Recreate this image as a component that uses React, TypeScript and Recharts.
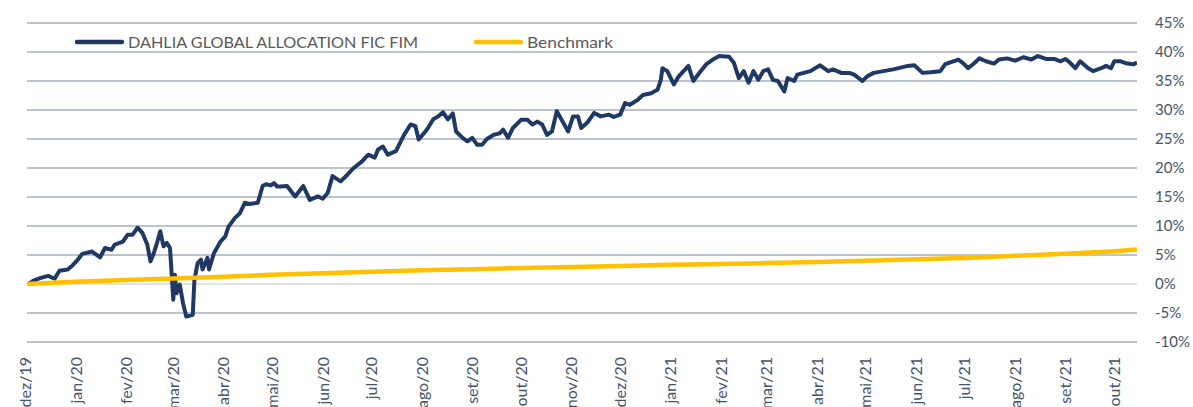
import { LineChart, Line, XAxis, YAxis, CartesianGrid } from "recharts";

const fundName = "DAHLIA GLOBAL ALLOCATION FIC FIM";
const benchName = "Benchmark";

// cumulative return, %
const fundDates = [
  "2019-12-02", "2019-12-04", "2019-12-06", "2019-12-10", "2019-12-15", "2019-12-19", "2019-12-22", "2019-12-27", "2019-12-30",
  "2020-01-02", "2020-01-05", "2020-01-11", "2020-01-16", "2020-01-19", "2020-01-23", "2020-01-25", "2020-01-30",
  "2020-02-02", "2020-02-05", "2020-02-08", "2020-02-11", "2020-02-14", "2020-02-16", "2020-02-18", "2020-02-20", "2020-02-22", "2020-02-24", "2020-02-26", "2020-02-28",
  "2020-03-01", "2020-03-02", "2020-03-03", "2020-03-05", "2020-03-07", "2020-03-09", "2020-03-13", "2020-03-14", "2020-03-16", "2020-03-18", "2020-03-19", "2020-03-22", "2020-03-23", "2020-03-26", "2020-03-30",
  "2020-04-02", "2020-04-04", "2020-04-08", "2020-04-11", "2020-04-14", "2020-04-17", "2020-04-22", "2020-04-25", "2020-04-27", "2020-04-30",
  "2020-05-02", "2020-05-04", "2020-05-06", "2020-05-10", "2020-05-15", "2020-05-20", "2020-05-24", "2020-05-29",
  "2020-06-01", "2020-06-04", "2020-06-07", "2020-06-12", "2020-06-16", "2020-06-20", "2020-06-25", "2020-06-29",
  "2020-07-03", "2020-07-05", "2020-07-08", "2020-07-11", "2020-07-16", "2020-07-21", "2020-07-25", "2020-07-28", "2020-07-30",
  "2020-08-04", "2020-08-08", "2020-08-11", "2020-08-14", "2020-08-17", "2020-08-20", "2020-08-22", "2020-08-26", "2020-08-29",
  "2020-09-01", "2020-09-04", "2020-09-07", "2020-09-10", "2020-09-14", "2020-09-18", "2020-09-20", "2020-09-23", "2020-09-26",
  "2020-10-01", "2020-10-05", "2020-10-08", "2020-10-11", "2020-10-14", "2020-10-17", "2020-10-20", "2020-10-23", "2020-10-26", "2020-10-30",
  "2020-11-02", "2020-11-05", "2020-11-07", "2020-11-11", "2020-11-15", "2020-11-19", "2020-11-24", "2020-11-27",
  "2020-12-01", "2020-12-04", "2020-12-07", "2020-12-12", "2020-12-15", "2020-12-20", "2020-12-24", "2020-12-26", "2020-12-27", "2020-12-30",
  "2021-01-03", "2021-01-06", "2021-01-09", "2021-01-12", "2021-01-15", "2021-01-19", "2021-01-23", "2021-01-27", "2021-01-31",
  "2021-02-06", "2021-02-09", "2021-02-12", "2021-02-15", "2021-02-18", "2021-02-21", "2021-02-24", "2021-02-27",
  "2021-03-02", "2021-03-05", "2021-03-08", "2021-03-12", "2021-03-14", "2021-03-18", "2021-03-20", "2021-03-24", "2021-03-28",
  "2021-04-03", "2021-04-08", "2021-04-11", "2021-04-16", "2021-04-21", "2021-04-24", "2021-04-29",
  "2021-05-02", "2021-05-06", "2021-05-12", "2021-05-18", "2021-05-27", "2021-05-31",
  "2021-06-05", "2021-06-10", "2021-06-16", "2021-06-19", "2021-06-24", "2021-06-27", "2021-06-30",
  "2021-07-03", "2021-07-07", "2021-07-10", "2021-07-14", "2021-07-19", "2021-07-22", "2021-07-27",
  "2021-08-01", "2021-08-06", "2021-08-11", "2021-08-15", "2021-08-20", "2021-08-25", "2021-08-29",
  "2021-09-01", "2021-09-04", "2021-09-07", "2021-09-10", "2021-09-15", "2021-09-18", "2021-09-23", "2021-09-26", "2021-09-29",
  "2021-10-01", "2021-10-05", "2021-10-09", "2021-10-13", "2021-10-15",
];
const fundValues = [
  0, 0.2, 0.6, 1.0, 1.4, 0.9, 2.3, 2.5, 3.2,
  4.1, 5.2, 5.6, 4.6, 6.2, 5.9, 6.8, 7.3,
  8.5, 8.5, 9.7, 8.8, 6.8, 3.9, 5.3, 7.1, 9.1, 6.5, 7.1, 6.2,
  -2.7, 1.6, -1.6, -0.1, -3.3, -5.6, -5.3, 0.7, 3.6, 4.2, 2.5, 4.5, 2.5, 5.3, 7.3,
  8.2, 9.9, 11.4, 12.2, 14.0, 13.8, 14.0, 16.9, 17.2, 17.0,
  17.4, 16.8, 16.8, 16.9, 15.1, 16.9, 14.5, 15.1,
  14.7, 15.7, 18.6, 17.7, 18.8, 20.0, 21.1, 22.3,
  21.8, 23.2, 23.7, 22.3, 22.9, 25.7, 27.5, 27.2, 24.9,
  26.6, 28.4, 28.9, 29.6, 28.4, 29.4, 26.3, 25.2, 24.6,
  25.2, 24.0, 24.0, 25.0, 25.7, 26.0, 26.6, 25.2, 26.9,
  28.3, 28.3, 27.5, 28.0, 27.5, 25.7, 26.3, 29.8, 28.3, 26.3,
  28.9, 28.9, 26.9, 27.9, 29.5, 28.9, 29.2, 28.8,
  29.2, 31.2, 30.9, 31.8, 32.6, 32.9, 33.5, 35.2, 37.2, 36.7,
  34.4, 35.8, 36.7, 37.6, 35.0, 36.5, 37.9, 38.7, 39.3,
  39.2, 38.1, 35.5, 36.7, 34.7, 36.7, 35.2, 36.7,
  37.0, 35.2, 35.0, 33.2, 35.5, 35.0, 36.1, 36.4, 36.7,
  37.7, 36.7, 37.0, 36.4, 36.4, 36.1, 35.0,
  35.8, 36.4, 36.7, 37.0, 37.6, 37.7,
  36.4, 36.5, 36.7, 37.9, 38.4, 38.7, 38.1,
  37.2, 38.1, 38.9, 38.4, 38.0, 38.7, 38.9,
  38.5, 39.1, 38.7, 39.3, 38.8, 38.8, 38.4,
  38.8, 38.1, 37.2, 38.4, 37.2, 36.7, 37.2, 37.6, 37.2,
  38.4, 38.4, 38.0, 37.9, 38.2,
];

const benchDates = [
  "2019-12-02", "2020-01-01", "2020-02-01", "2020-03-01", "2020-04-01", "2020-05-01", "2020-06-01",
  "2020-07-01", "2020-08-01", "2020-09-01", "2020-10-01", "2020-11-01", "2020-12-01",
  "2021-01-01", "2021-02-01", "2021-03-01", "2021-04-01", "2021-05-01", "2021-06-01",
  "2021-07-01", "2021-08-01", "2021-09-01", "2021-10-01", "2021-10-15",
];
const benchValues = [
  0, 0.4, 0.7, 0.95, 1.25, 1.6, 1.85,
  2.1, 2.35, 2.55, 2.75, 2.95, 3.1,
  3.3, 3.45, 3.6, 3.8, 4.0, 4.25,
  4.5, 4.85, 5.2, 5.65, 5.95,
];

const monthTicks = [
  "2019-12-01", "2020-01-01", "2020-02-01", "2020-03-01", "2020-04-01", "2020-05-01", "2020-06-01", "2020-07-01",
  "2020-08-01", "2020-09-01", "2020-10-01", "2020-11-01", "2020-12-01", "2021-01-01", "2021-02-01", "2021-03-01",
  "2021-04-01", "2021-05-01", "2021-06-01", "2021-07-01", "2021-08-01", "2021-09-01", "2021-10-01",
];
const monthLabels = [
  "dez/19", "jan/20", "fev/20", "mar/20", "abr/20", "mai/20", "jun/20", "jul/20",
  "ago/20", "set/20", "out/20", "nov/20", "dez/20", "jan/21", "fev/21", "mar/21",
  "abr/21", "mai/21", "jun/21", "jul/21", "ago/21", "set/21", "out/21",
];
const yTicks = [-10, -5, 0, 5, 10, 15, 20, 25, 30, 35, 40, 45];

const NAVY = "#203864";
const GOLD = "#FFC000";
const FONT = "Lato, 'Open Sans', sans-serif";

const ts = (d: string) => new Date(d + "T00:00:00Z").getTime();

const fundData = fundDates.map((d, i) => ({ t: ts(d), v: fundValues[i] }));
const benchData = benchDates.map((d, i) => ({ t: ts(d), v: benchValues[i] }));
const tickTimes = monthTicks.map(ts);
const labelFor = new Map(tickTimes.map((t, i) => [t, monthLabels[i]]));

const legendItems = [
  { name: fundName, color: NAVY, x: 75, textLen: 290 },
  { name: benchName, color: GOLD, x: 474, textLen: 86 },
];

function MonthTick(props: any) {
  const { x, y, payload } = props;
  const ty = y + 15;
  return (
    <text
      x={x}
      y={ty}
      dy="0.36em"
      transform={`rotate(-90 ${x} ${ty})`}
      textAnchor="end"
      fill="#44546A"
      fontSize={16}
      fontFamily={FONT}
    >
      {labelFor.get(payload.value)}
    </text>
  );
}

export default function App() {
  return (
    <div style={{ position: "relative", width: 1193, height: 407, background: "#fff" }}>
      <style>{"body{margin:0}"}</style>
      <LineChart width={1193} height={407} margin={{ top: 23, right: 0, bottom: 0, left: 27 }}>
        <CartesianGrid vertical={false} horizontalValues={yTicks.filter((v) => v !== 0)} stroke="#A6AEBF" strokeWidth={1.5} />
        <CartesianGrid vertical={false} horizontalValues={[0]} stroke="#D9D9D9" strokeWidth={1.5} />
        <XAxis
          dataKey="t"
          type="number"
          domain={[ts("2019-12-02"), ts("2021-10-15")]}
          ticks={tickTimes}
          tick={<MonthTick />}
          interval={0}
          height={65}
          axisLine={false}
          tickLine={false}
          tickSize={0}
          tickMargin={0}
          allowDataOverflow
        />
        <YAxis
          orientation="right"
          type="number"
          domain={[-10, 45]}
          ticks={yTicks}
          interval={0}
          width={56}
          axisLine={false}
          tickLine={false}
          tickSize={0}
          tickMargin={18}
          tickFormatter={(v) => `${v}%`}
          tick={{ fill: "#44546A", fontSize: 15, fontFamily: FONT, textAnchor: "start" }}
        />
        <Line
          data={fundData}
          dataKey="v"
          name={fundName}
          type="linear"
          stroke={NAVY}
          strokeWidth={4}
          strokeLinejoin="round"
          dot={false}
          isAnimationActive={false}
        />
        <Line
          data={benchData}
          dataKey="v"
          name={benchName}
          type="linear"
          stroke={GOLD}
          strokeWidth={4.5}
          dot={false}
          isAnimationActive={false}
        />
      </LineChart>
      <svg width={700} height={60} style={{ position: "absolute", left: 0, top: 0, pointerEvents: "none" }}>
        {legendItems.map((it) => (
          <g key={it.name}>
            <line x1={it.x + 2} x2={it.x + 47} y1={42} y2={42} stroke={it.color} strokeWidth={4.5} strokeLinecap="round" />
            <text
              x={it.x + 53}
              y={47.5}
              fontSize={15.5}
              fontFamily={FONT}
              fill="#595959"
              textLength={it.textLen}
              lengthAdjust="spacingAndGlyphs"
            >
              {it.name}
            </text>
          </g>
        ))}
      </svg>
    </div>
  );
}
